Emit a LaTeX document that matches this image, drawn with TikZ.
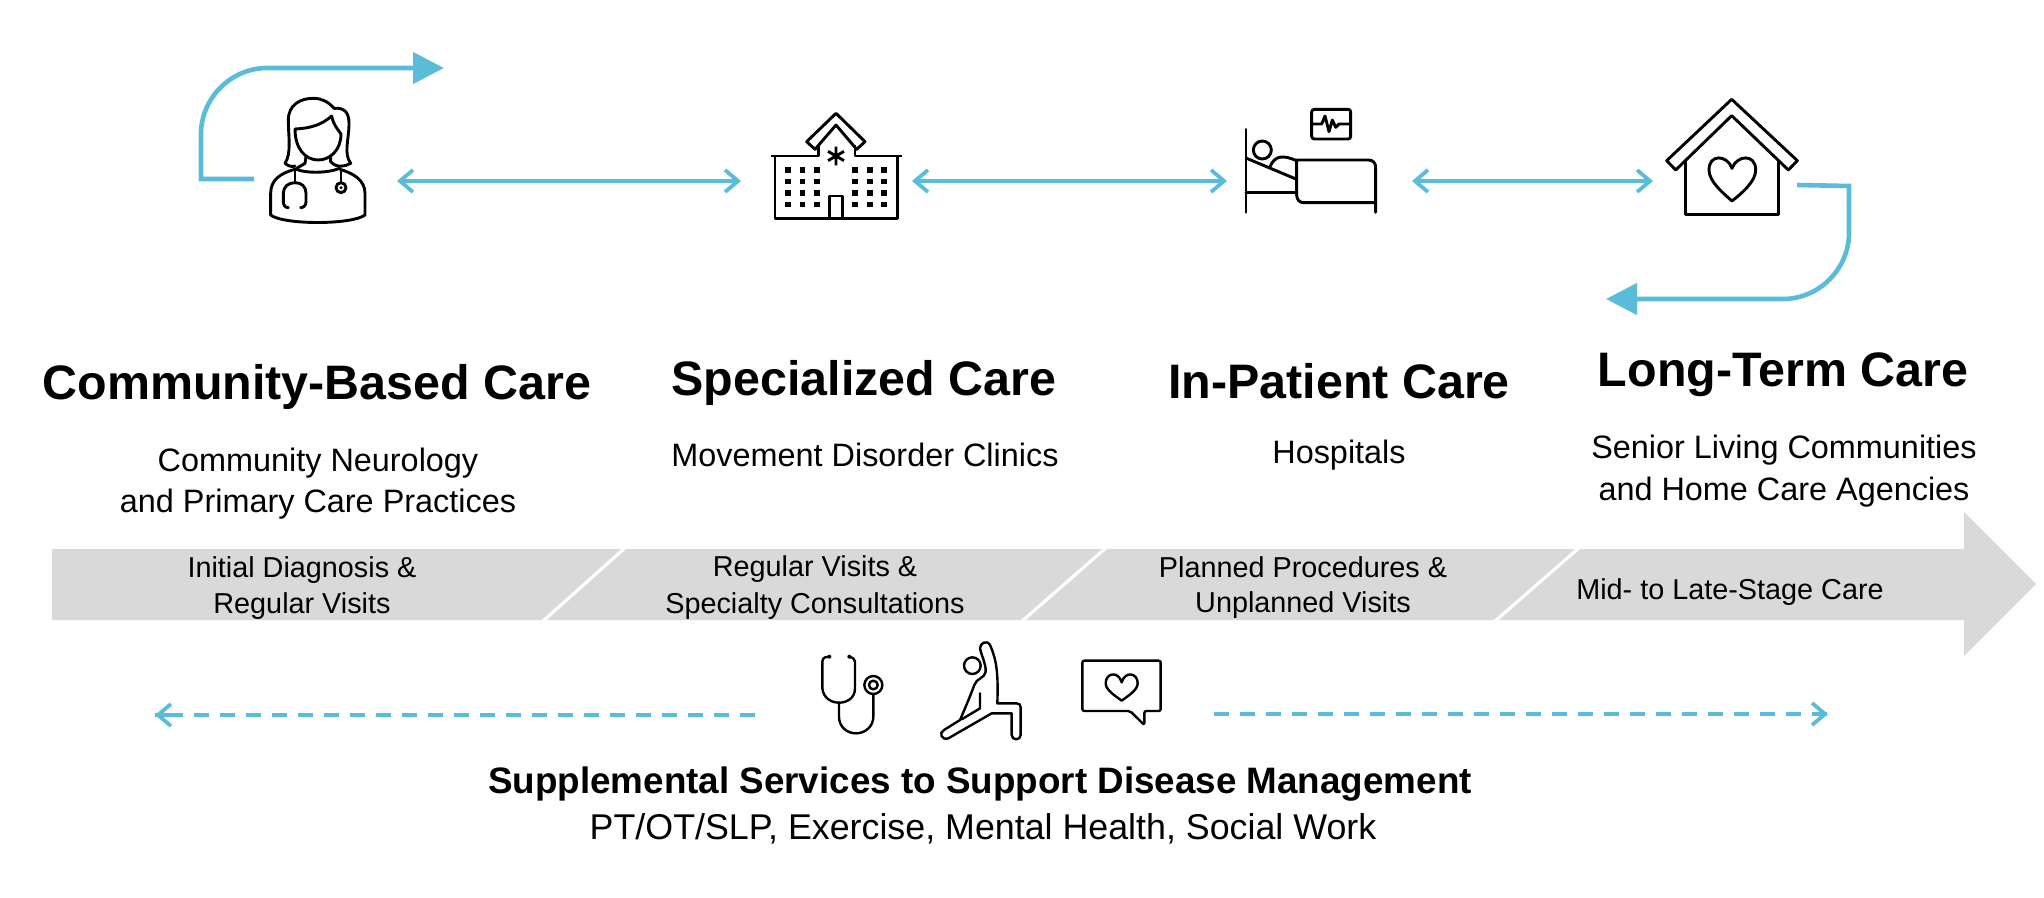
\documentclass[tikz,border=0pt]{standalone}
\usepackage{fontspec}
\setmainfont{Liberation Sans}
\usetikzlibrary{arrows.meta}
\definecolor{teal1}{HTML}{5BBCD9}
\definecolor{bargray}{HTML}{D9D9D9}
\tikzset{
  head/.style={font=\fontsize{24.2}{28}\selectfont\bfseries,inner sep=0pt,anchor=center},
  subt/.style={font=\fontsize{16.2}{19}\selectfont,inner sep=0pt,anchor=center},
  bart/.style={font=\fontsize{14.4}{17}\selectfont,inner sep=0pt,anchor=center},
  supb/.style={font=\fontsize{18.4}{20}\selectfont\bfseries,inner sep=0pt,anchor=center},
  supr/.style={font=\fontsize{17.9}{20}\selectfont,inner sep=0pt,anchor=center},
  dbl/.style={teal1,line width=1.9pt,{Straight Barb[length=6.5pt,width=11pt]}-{Straight Barb[length=6.5pt,width=11pt]}},
  dsh/.style={teal1,line width=1.9pt,dash pattern=on 7.5pt off 5.5pt},
  flow/.style={teal1,line width=2.3pt,-{Triangle[length=15.5pt,width=15.5pt]}},
  ico/.style={black,line width=1.45pt,line join=round,line cap=round},
  icos/.style={black,line width=1.2pt,line join=round,line cap=round},
  icon/.style={x=0.16667pt,y=-0.16667pt}
}
\begin{document}
\begin{tikzpicture}[x=0.5pt,y=-0.5pt]
\useasboundingbox (0,0) rectangle (2044,898);
% grey arrow
\fill[bargray] (52,549) -- (1964,549) -- (1964,512) -- (2036,584) -- (1964,656) -- (1964,620) -- (52,620) -- cycle;
\draw[white,line width=1.6pt] (626,547) -- (542,622);
\draw[white,line width=1.6pt] (1107,547) -- (1021,622);
\draw[white,line width=1.6pt] (1580,547) -- (1494,622);
% coordinates
\coordinate (a1) at (397,181); \coordinate (a2) at (741,181);
\coordinate (b1) at (912,181); \coordinate (b2) at (1227,181);
\coordinate (c1) at (1412,181); \coordinate (c2) at (1653,181);
\coordinate (d1) at (254,179); \coordinate (d2) at (201,179); \coordinate (d3) at (201,134); \coordinate (d4) at (267,68); \coordinate (d5) at (444,68);
\coordinate (e1) at (1797,185); \coordinate (e2) at (1849,186); \coordinate (e3) at (1849,233); \coordinate (e4) at (1783,299); \coordinate (e5) at (1606,299);
\coordinate (f1) at (755,715); \coordinate (f2) at (155,715);
\coordinate (g1) at (1214,714); \coordinate (g2) at (1828,714);
\draw[dbl] (a1) -- (a2);
\draw[dbl] (b1) -- (b2);
\draw[dbl] (c1) -- (c2);
\draw[flow] (d1) -- (d2) -- (d3) .. controls (201,98) and (231,68) .. (d4) -- (d5);
\draw[flow] (e1) -- (e2) -- (e3) .. controls (1849,269) and (1819,299) .. (e4) -- (e5);
\draw[dsh] (f1) -- (f2);
\draw[dsh] (g1) -- (g2);
\draw[teal1,line width=1.9pt,-{Straight Barb[length=6.5pt,width=11pt]}] (170,715) -- (f2);
\draw[teal1,line width=1.9pt,-{Straight Barb[length=6.5pt,width=11pt]}] (1815,714) -- (g2);
% doctor
\begin{scope}[shift={(180,30)},icon,ico]
\draw (345,408) .. controls (335,412) and (325,408) .. (315,400) .. controls (335,370) and (325,320) .. (325,270) .. controls (325,225) and (360,205) .. (400,205) .. controls (425,205) and (445,215) .. (462,235) .. controls (495,232) and (507,250) .. (507,280) .. controls (507,330) and (490,370) .. (512,400) .. controls (495,410) and (470,415) .. (452,395) -- (452,380);
\draw (345,297) .. controls (390,295) and (425,285) .. (455,258) .. controls (460,285) and (475,300) .. (483,312) .. controls (483,360) and (450,390) .. (415,390) .. controls (375,390) and (345,355) .. (345,297) -- cycle;
\draw (378,380) -- (375,400) -- (350,415);
\draw (350,418) .. controls (375,430) and (445,430) .. (478,415);
\draw (345,418) .. controls (300,430) and (272,450) .. (272,490) -- (272,555) .. controls (310,585) and (515,585) .. (555,555) -- (555,490) .. controls (555,450) and (520,430) .. (480,418);
\draw (345,415) -- (345,458);
\draw (325,533) .. controls (315,533) and (310,525) .. (310,515) -- (310,490) .. controls (310,470) and (325,458) .. (345,458) .. controls (365,458) and (378,470) .. (378,490) -- (378,515) .. controls (378,525) and (372,533) .. (362,533);
\draw (483,420) -- (483,458);
\draw (483,473) circle (15);
\fill (483,473) circle (5);
\end{scope}
% hospital
\begin{scope}[shift={(740,90)},icon,ico,line cap=butt]
\draw (200,155) -- (288,70) -- (375,155) -- (350,178) -- (288,105) -- (225,178) -- cycle;
\draw (235,165) -- (235,198) -- (92,198);
\draw (345,165) -- (345,198) -- (485,198);
\draw (105,198) -- (105,385) -- (472,385) -- (472,198);
\draw (268,385) -- (268,318) -- (308,318) -- (308,385);
\draw (288,170) -- (288,226) (264,184) -- (312,212) (264,212) -- (312,184);
\foreach \cx in {143,187,231,345,389,432}
  \foreach \cy in {241,275,309,343}
    \fill (\cx-8.5,\cy-8.5) rectangle (\cx+8.5,\cy+8.5);
\end{scope}
% bed
\begin{scope}[shift={(1220,90)},icon,ico]
\draw[rounded corners=1.3pt] (275,58) rectangle (392,147);
\draw (275,102) -- (305,102) -- (315,78) -- (327,125) -- (337,90) -- (347,112) -- (357,102) -- (392,102);
\draw (78,118) -- (78,367);
\draw (127,180) circle (27);
\draw (80,205) -- (230,268);
\draw (150,230) .. controls (165,195) and (190,195) .. (230,212);
\draw (230,315) -- (230,210) -- (445,210) .. controls (460,210) and (467,220) .. (467,232) -- (467,367);
\draw (230,315) .. controls (230,330) and (240,338) .. (250,338) -- (467,338);
\draw (78,308) -- (230,308);
\end{scope}
% house
\begin{scope}[shift={(1640,80)},icon,ico,line cap=butt]
\draw (80,242) -- (275,58) -- (472,242) -- (445,270) -- (275,107) -- (107,270) -- cycle;
\draw (136,240) -- (136,403) -- (416,403) -- (416,240);
\draw (276,265) .. controls (262,225) and (207,220) .. (207,270) .. controls (207,305) and (250,340) .. (276,363) .. controls (305,340) and (347,305) .. (347,270) .. controls (347,220) and (290,225) .. (276,265) -- cycle;
\end{scope}
% lower icons
\begin{scope}[shift={(790,630)},icon,icos]
\draw (118,80) -- (105,82) .. controls (100,84) and (97,88) .. (97,95) -- (97,175) .. controls (100,205) and (125,218) .. (147,218) .. controls (170,218) and (195,205) .. (195,175) -- (195,95) .. controls (195,88) and (190,84) .. (178,80);
\fill (118,80) circle (6); \fill (178,80) circle (6);
\draw (147,218) -- (147,260) .. controls (147,290) and (170,310) .. (198,310) .. controls (225,310) and (250,290) .. (250,260) -- (250,192);
\draw (250,165) circle (27);
\draw (250,165) circle (13);
\draw (547,107) circle (25);
\draw (570,55) .. controls (570,40) and (590,28) .. (600,45) .. controls (620,90) and (625,130) .. (622,220) -- (680,220) .. controls (688,220) and (692,225) .. (692,232) -- (692,315) .. controls (692,332) and (665,332) .. (665,315) -- (665,250) -- (605,250) -- (475,325) .. controls (455,332) and (445,308) .. (462,300) -- (510,270) .. controls (525,235) and (540,200) .. (553,165) .. controls (558,145) and (585,145) .. (587,125) .. controls (588,100) and (575,80) .. (570,55) -- cycle;
\draw (570,190) -- (570,235) -- (515,268);
\draw[rounded corners=1pt] (1020,243) -- (1063,285) -- (1063,243) -- (1112,243) -- (1112,92) -- (877,92) -- (877,243) -- cycle;
\draw (995,157) .. controls (985,122) and (947,128) .. (947,160) .. controls (947,180) and (975,197) .. (995,212) .. controls (1015,197) and (1043,180) .. (1043,160) .. controls (1043,128) and (1005,122) .. (995,157) -- cycle;
\end{scope}
% text
\node[head] (h1) at (317,387) {Community-Based Care};
\node[head] (h2) at (864,383) {Specialized Care};
\node[head] (h3) at (1339,381) {In-Patient Care};
\node[head] (h4) at (1783,375) {Long-Term Care};
\node[subt] (s1a) at (318,463) {Community Neurology};
\node[subt] (s1b) at (318,504) {and Primary Care Practices};
\node[subt] (s2) at (865,455) {Movement Disorder Clinics};
\node[subt] (s3) at (1339,455) {Hospitals};
\node[subt] (s4a) at (1784,450) {Senior Living Communities};
\node[subt] (s4b) at (1784,492) {and Home Care Agencies};
\node[bart] (b1a) at (302,570) {Initial Diagnosis \&};
\node[bart] (b1b) at (302,606) {Regular Visits};
\node[bart] (b2a) at (815,569) {Regular Visits \&};
\node[bart] (b2b) at (815,606) {Specialty Consultations};
\node[bart] (b3a) at (1303,567) {Planned Procedures \&};
\node[bart] (b3b) at (1303,605) {Unplanned Visits};
\node[bart] (b4) at (1730,592) {Mid- to Late-Stage Care};
\node[supb] (t1) at (980,784) {Supplemental Services to Support Disease Management};
\node[supr] (t2) at (983,829) {PT/OT/SLP, Exercise, Mental Health, Social Work};
\end{tikzpicture}
\end{document}
